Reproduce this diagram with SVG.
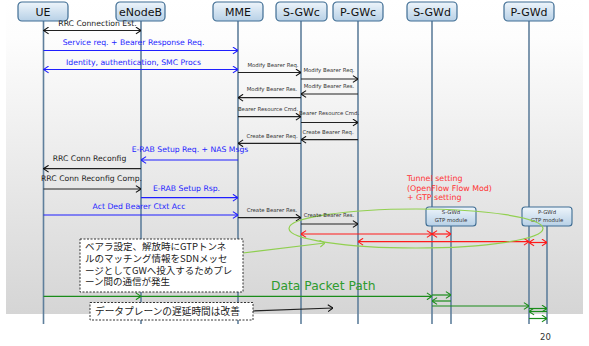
<svg xmlns="http://www.w3.org/2000/svg" width="589" height="346" viewBox="0 0 589 346">
<defs>
<linearGradient id="bg" x1="0" y1="0" x2="0" y2="1">
<stop offset="0" stop-color="#ffffff"/>
<stop offset="0.12" stop-color="#fdfdfd"/>
<stop offset="1" stop-color="#d5d5d5"/>
</linearGradient>
<linearGradient id="hb" x1="0" y1="0" x2="0" y2="1">
<stop offset="0" stop-color="#eef5fb"/>
<stop offset="1" stop-color="#b7d0e6"/>
</linearGradient>
<marker id="mk" viewBox="0 0 6 8" refX="5.6" refY="4" markerWidth="6" markerHeight="8" markerUnits="userSpaceOnUse" orient="auto-start-reverse"><path d="M0.5,0.6 L5.6,4 L0.5,7.4" fill="none" stroke="#111" stroke-width="1.1"/></marker>
<marker id="mb" viewBox="0 0 6 8" refX="5.6" refY="4" markerWidth="6" markerHeight="8" markerUnits="userSpaceOnUse" orient="auto-start-reverse"><path d="M0.5,0.6 L5.6,4 L0.5,7.4" fill="none" stroke="#1f1fff" stroke-width="1.1"/></marker>
<marker id="mr" viewBox="0 0 6 8" refX="5.6" refY="4" markerWidth="6" markerHeight="8" markerUnits="userSpaceOnUse" orient="auto-start-reverse"><path d="M0.5,0.6 L5.6,4 L0.5,7.4" fill="none" stroke="#ff1a1a" stroke-width="1.1"/></marker>
<marker id="mg" viewBox="0 0 6 8" refX="5.6" refY="4" markerWidth="6" markerHeight="8" markerUnits="userSpaceOnUse" orient="auto-start-reverse"><path d="M0.5,0.6 L5.6,4 L0.5,7.4" fill="none" stroke="#1a8c1a" stroke-width="1.1"/></marker>
<marker id="ml" viewBox="0 0 6 8" refX="5.6" refY="4" markerWidth="6" markerHeight="8" markerUnits="userSpaceOnUse" orient="auto-start-reverse"><path d="M0.5,0.6 L5.6,4 L0.5,7.4" fill="none" stroke="#8fcf50" stroke-width="1.1"/></marker>
</defs>
<style>
.hdr rect{fill:url(#hb);stroke:#3f6d93;stroke-width:1.2}
.hdr text{font-family:"DejaVu Sans",sans-serif;font-size:11px;fill:#111;text-anchor:middle}
.life{stroke:#5f7f9c;stroke-width:1.6}
.m{font-family:"DejaVu Sans",sans-serif;font-size:7.7px;text-anchor:middle}
.s{font-family:"DejaVu Sans",sans-serif;font-size:5.4px;fill:#333;text-anchor:middle}
.blk{fill:#222}
.blu{fill:#2424ff}
.ak{stroke:#222;stroke-width:1.2;fill:none;marker-end:url(#mk)}
.akd{stroke:#222;stroke-width:1.2;fill:none;marker-end:url(#mk);marker-start:url(#mk)}
.ab{stroke:#1f1fff;stroke-width:1.2;fill:none;marker-end:url(#mb)}
.abd{stroke:#1f1fff;stroke-width:1.2;fill:none;marker-end:url(#mb);marker-start:url(#mb)}
.ard{stroke:#ff1a1a;stroke-width:1.2;fill:none;marker-end:url(#mr);marker-start:url(#mr)}
.ag{stroke:#1a8c1a;stroke-width:1.2;fill:none;marker-end:url(#mg)}
.red{font-family:"DejaVu Sans",sans-serif;font-size:7.9px;fill:#ff3333}
.note rect{fill:#fff;stroke:#333;stroke-width:1;stroke-dasharray:2,1.5}
.note text{font-family:"Noto Sans CJK JP",sans-serif;fill:#222}
.gtp rect{fill:url(#hb);stroke:#3f6d93;stroke-width:1.1}
</style>
<rect x="6" y="0" width="577" height="314" fill="url(#bg)"/>
<g id="lifelines">
<line class="life" x1="43.5" y1="21" x2="43.5" y2="324"/>
<line class="life" x1="141" y1="21" x2="141" y2="324"/>
<line class="life" x1="238" y1="21" x2="238" y2="324"/>
<line class="life" x1="301" y1="21" x2="301" y2="324"/>
<line class="life" x1="358" y1="21" x2="358" y2="324"/>
<line class="life" x1="432" y1="21" x2="432" y2="324"/>
<line class="life" x1="529" y1="21" x2="529" y2="324"/>
<line class="life" x1="451" y1="226" x2="451" y2="324"/>
<line class="life" x1="547" y1="226" x2="547" y2="324"/>
</g>
<g id="UE" class="hdr"><rect x="18" y="2" width="50" height="19" rx="4"/><text x="43" y="15.5">UE</text></g>
<g id="eNodeB" class="hdr"><rect x="116" y="2" width="49" height="19" rx="4"/><text x="140.5" y="15.5">eNodeB</text></g>
<g id="MME" class="hdr"><rect x="213" y="2" width="50" height="19" rx="4"/><text x="238" y="15.5">MME</text></g>
<g id="S-GWc" class="hdr"><rect x="276" y="2" width="51" height="19" rx="4"/><text x="301.5" y="15.5">S-GWc</text></g>
<g id="P-GWc" class="hdr"><rect x="333" y="2" width="50" height="19" rx="4"/><text x="358" y="15.5">P-GWc</text></g>
<g id="S-GWd" class="hdr"><rect x="407" y="2" width="50" height="19" rx="4"/><text x="432" y="15.5">S-GWd</text></g>
<g id="P-GWd" class="hdr"><rect x="504" y="2" width="50" height="19" rx="4"/><text x="529" y="15.5">P-GWd</text></g>
<g id="S-GWd-GTP" class="gtp"><rect x="426" y="207" width="50" height="19" rx="3"/><text class="s" x="451" y="214">S-GWd</text><text class="s" x="451" y="222">GTP module</text></g>
<g id="P-GWd-GTP" class="gtp"><rect x="522" y="207" width="50" height="19" rx="3"/><text class="s" x="547" y="214">P-GWd</text><text class="s" x="547" y="222">GTP module</text></g>
<g id="connectors">
<line class="akd" x1="43.5" y1="30.5" x2="141" y2="30.5"/>
<line class="ab" x1="43.5" y1="50.5" x2="238" y2="50.5"/>
<line class="abd" x1="43.5" y1="69.5" x2="238" y2="69.5"/>
<line class="ak" x1="238" y1="72.5" x2="301" y2="72.5"/>
<line class="ak" x1="301" y1="79" x2="358" y2="79"/>
<line class="ak" x1="358" y1="94" x2="301" y2="94"/>
<line class="ak" x1="301" y1="97.7" x2="238" y2="97.7"/>
<line class="ak" x1="238" y1="116.7" x2="301" y2="116.7"/>
<line class="ak" x1="301" y1="122.5" x2="358" y2="122.5"/>
<line class="ak" x1="358" y1="139.7" x2="301" y2="139.7"/>
<line class="ak" x1="301" y1="143.3" x2="238" y2="143.3"/>
<line class="ab" x1="238" y1="160" x2="141" y2="160"/>
<line class="ak" x1="141" y1="168.7" x2="43.5" y2="168.7"/>
<line class="ak" x1="43.5" y1="189" x2="141" y2="189"/>
<line class="ab" x1="141" y1="197.7" x2="238" y2="197.7"/>
<line class="ab" x1="43.5" y1="215" x2="238" y2="215"/>
<line class="ak" x1="238" y1="217.7" x2="301" y2="217.7"/>
<line class="ak" x1="301" y1="224" x2="358" y2="224"/>
<line class="ard" x1="301" y1="234" x2="432" y2="234"/>
<line class="ard" x1="432" y1="234" x2="451" y2="234"/>
<line class="ard" x1="358" y1="241.7" x2="529" y2="241.7"/>
<line class="ard" x1="529" y1="242.5" x2="547" y2="242.5"/>
<polyline class="ag" points="43.5,296.3 141,296.3 432,296.3" style="marker-mid:url(#mg)"/>
<line class="ag" x1="432" y1="295" x2="451" y2="295"/>
<line class="ag" x1="451" y1="301" x2="432" y2="301"/>
<line class="ag" x1="432" y1="306" x2="529" y2="306"/>
<line class="ag" x1="529" y1="308.5" x2="547" y2="308.5"/>
<line class="ag" x1="547" y1="311.5" x2="529" y2="311.5"/>
<line class="ag" x1="529" y1="318.5" x2="547" y2="318.5"/>
<ellipse cx="416" cy="228.5" rx="127" ry="19.5" fill="none" stroke="#92d050" stroke-width="1.2"/>
<line x1="243" y1="253" x2="325" y2="243" stroke="#8fcf50" stroke-width="1.2" marker-end="url(#ml)"/>
<line x1="253" y1="311" x2="333" y2="308" stroke="#222" stroke-width="1.2" marker-end="url(#mk)"/>
</g>
<g id="labels">
<text class="m blk" x="97.5" y="25.8">RRC Connection Est.</text>
<text class="m blu" x="133.5" y="44.8">Service req. + Bearer Response Req.</text>
<text class="m blu" x="133.5" y="64.8">Identity, authentication, SMC Procs</text>
<text class="s" x="273" y="66.5">Modify Bearer Req.</text>
<text class="s" x="329" y="72">Modify Bearer Req.</text>
<text class="s" x="329" y="88">Modify Bearer Res.</text>
<text class="s" x="272" y="91.2">Modify Bearer Res.</text>
<text class="s" x="268" y="111">Bearer Resource Cmd.</text>
<text class="s" x="329" y="115">Bearer Resource Cmd.</text>
<text class="s" x="328" y="134">Create Bearer Req.</text>
<text class="s" x="272" y="137.6">Create Bearer Req.</text>
<text class="m blu" x="190" y="151.8">E-RAB Setup Req. + NAS Msgs</text>
<text class="m blk" x="89.5" y="160.8">RRC Conn Reconfig</text>
<text class="m blk" x="91.5" y="180.8">RRC Conn Reconfig Comp.</text>
<text class="m blu" x="186.5" y="190.8">E-RAB Setup Rsp.</text>
<text class="m blu" x="139" y="208.8">Act Ded Bearer Ctxt Acc</text>
<text class="s" x="272" y="212">Create Bearer Res.</text>
<text class="s" x="329" y="217">Create Bearer Res.</text>
<text class="red" x="407" y="180.8">Tunnel setting</text>
<text class="red" x="407" y="190.8">(OpenFlow Flow Mod)</text>
<text class="red" x="407" y="199.8">+ GTP setting</text>
<text x="271" y="289.5" font-family="DejaVu Sans, sans-serif" font-size="12.3" fill="#2e9b2e">Data Packet Path</text>
<text x="540" y="340" font-family="DejaVu Sans, sans-serif" font-size="8.5" fill="#333">20</text>
</g>
<g id="note1" class="note">
<rect x="80" y="239" width="163" height="53"/>
<text x="85" y="250.3" font-size="9.5">ベアラ設定、解放時にGTPトンネ</text>
<text x="85" y="261.8" font-size="9.5">ルのマッチング情報をSDNメッセ</text>
<text x="85" y="273.8" font-size="9.5">ージとしてGWへ投入するためプレ</text>
<text x="85" y="285.3" font-size="9.5">ーン間の通信が発生</text>
</g>
<g id="note2" class="note">
<rect x="90" y="302.5" width="163" height="17.5"/>
<text x="95" y="314.5" font-size="9.7">データプレーンの遅延時間は改善</text>
</g>
</svg>
